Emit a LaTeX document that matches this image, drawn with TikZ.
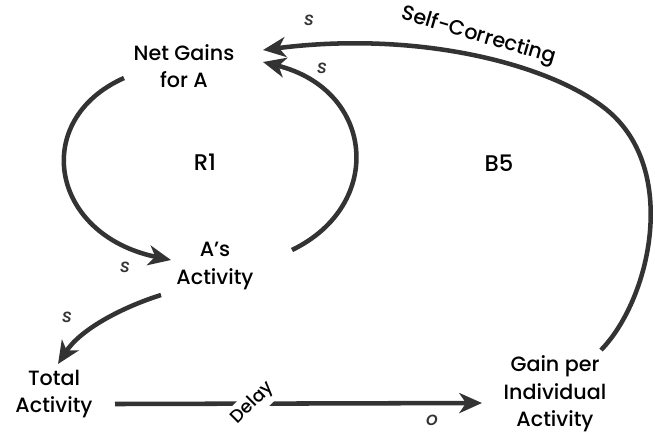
\documentclass[tikz,border=0pt]{standalone}
\usepackage{fontspec}
\setmainfont{Poppins}[UprightFont=* Medium, ItalicFont=* Medium Italic]
\usetikzlibrary{arrows.meta}
\definecolor{ink}{HTML}{333333}

\begin{document}
\begin{tikzpicture}[x=0.75pt, y=-0.75pt, font=\fontsize{15.5}{20.5}\selectfont, align=center,
    var/.style={inner sep=0pt, align=center},
    link/.style={draw=ink, line width=3.4pt, -{Stealth[length=17pt, width=15pt, inset=5pt]}},
    pol/.style={font=\fontsize{14}{16}\selectfont\itshape, text=ink},
    lp/.style={font=\fontsize{17}{20}\selectfont}
]
    \useasboundingbox (0,0) rectangle (655,436);
    \node[var] (net) at (184,66) {Net Gains\\for A};
    \node[var] (act) at (215,266) {A’s\\Activity};
    \node[var] (tot) at (54,394) {Total\\Activity};
    \node[var] (gain) at (555,394) {Gain per\\Individual\\Activity};
    \node[lp] (r1) at (205,162) {R1};
    \node[lp] (b5) at (499,163) {B5};
    % reinforcing loop
    \draw[link] ([shift={(-60,12)}]net.center) .. controls (30,120) and (50,235) .. ([shift={(-44,-6)}]act.center);
    \draw[link] ([shift={(77,-16)}]act.center) .. controls (385,205) and (375,90) .. ([shift={(79,-4)}]net.center);
    % balancing loop
    \draw[link] ([shift={(46,-44)}]gain.center) .. controls (650,300) and (680,170) .. (607,110)
        .. controls (552,65) and (420,30) .. node[pos=0.5, sloped, above=2pt, rotate=-5, font=\fontsize{15.5}{18}\selectfont] (sc) {Self-Correcting}
        ([shift={(79,-16)}]net.center);
    \draw[link] ([shift={(-54,29)}]act.center) .. controls (120,308) and (80,330) .. ([shift={(4,-30)}]tot.center);
    \draw[link] ([shift={(61,10)}]tot.center) -- node[pos=0.376, rotate=45, fill=white, inner sep=3pt, font=\fontsize{13.5}{16}\selectfont] (dl) {Delay} ([shift={(-73,9)}]gain.center);
    % polarities
    \node[pol] (p1) at (125,267) {s};
    \node[pol] (p2) at (322,68) {s};
    \node[pol] (p3) at (309,20) {s};
    \node[pol] (p4) at (67,317) {s};
    \node[pol] (p5) at (432,420) {o};
\end{tikzpicture}
\end{document}
